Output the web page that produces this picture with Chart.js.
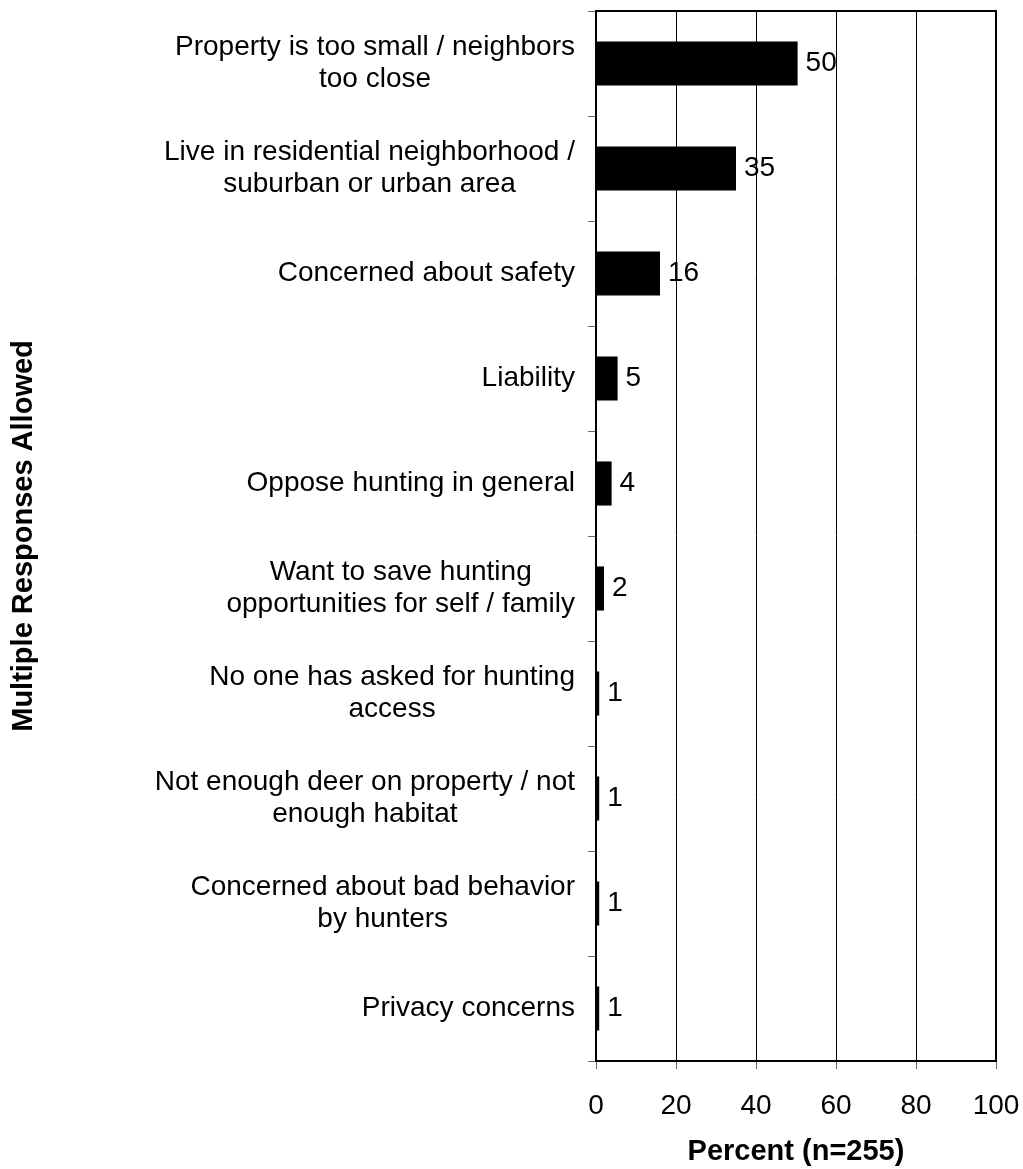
<!DOCTYPE html>
<html><head><meta charset="utf-8">
<script src="https://cdn.jsdelivr.net/npm/chart.js@4"></script>
<style>html,body{margin:0;padding:0;background:#fff}</style>
</head><body>
<canvas id="c" width="1023" height="1169" style="width:1023px;height:1169px;display:block"></canvas>
<script>
const categories = [
  ["Property is too small / neighbors", "too close"],
  ["Live in residential neighborhood /", "suburban or urban area"],
  ["Concerned about safety"],
  ["Liability"],
  ["Oppose hunting in general"],
  ["Want to save hunting", "opportunities for self / family"],
  ["No one has asked for hunting", "access"],
  ["Not enough deer on property / not", "enough habitat"],
  ["Concerned about bad behavior", "by hunters"],
  ["Privacy concerns"]
];
const percents = [50.4, 35, 16, 5.4, 3.9, 2, 0.8, 0.8, 0.8, 0.8];
const xTickValues = [0, 20, 40, 60, 80, 100];
const xTitle = "Percent (n=255)";
const yTitle = "Multiple Responses Allowed";

const FONT = "'Liberation Sans', Arial, sans-serif";
Chart.defaults.font.family = FONT;
Chart.defaults.color = '#000';

const labelPlugin = {
  id: 'catLabels',
  afterDraw(chart) {
    const ctx = chart.ctx;
    const ys = chart.scales.y;
    ctx.save();
    ctx.font = '28px ' + FONT;
    ctx.fillStyle = '#000';
    ctx.textBaseline = 'middle';
    ctx.textAlign = 'center';
    const rightX = chart.chartArea.left - 21;
    const lineH = 32;
    categories.forEach((lines, i) => {
      const y = ys.getPixelForTick(i);
      let maxW = 0;
      lines.forEach(l => { maxW = Math.max(maxW, ctx.measureText(l).width); });
      const cx = rightX - maxW / 2;
      lines.forEach((l, j) => {
        ctx.fillText(l, cx, y + (j - (lines.length - 1) / 2) * lineH);
      });
    });
    // value labels
    ctx.textAlign = 'left';
    const meta = chart.getDatasetMeta(0);
    meta.data.forEach((bar, i) => {
      ctx.fillText(String(Math.round(percents[i])), bar.x + 8, bar.y);
    });
    // frame
    const a = chart.chartArea;
    ctx.strokeStyle = '#000';
    ctx.lineWidth = 2;
    ctx.strokeRect(a.left, a.top, a.right - a.left, a.bottom - a.top);
    ctx.restore();
  }
};

new Chart(document.getElementById('c'), {
  type: 'bar',
  data: {
    labels: categories,
    datasets: [{
      data: percents,
      backgroundColor: '#000',
      borderWidth: 0,
      barPercentage: 0.42,
      categoryPercentage: 1
    }]
  },
  options: {
    indexAxis: 'y',
    responsive: false,
    animation: false,
    devicePixelRatio: 1,
    layout: { padding: { top: 11, right: 27, left: 0, bottom: 0 } },
    plugins: { legend: { display: false }, tooltip: { enabled: false } },
    scales: {
      x: {
        type: 'linear',
        min: 0, max: 100,
        afterBuildTicks(s) { s.ticks = xTickValues.map(v => ({ value: v })); },
        ticks: { font: { size: 28 }, color: '#000', padding: 20, maxRotation: 0 },
        grid: { color: '#000', lineWidth: 1, tickLength: 8, tickColor: '#666' },
        border: { color: '#000', width: 2 },
        title: { display: true, text: xTitle, font: { size: 29, weight: 'bold' }, color: '#000', padding: { top: 0, bottom: 0 } },
        afterFit(s) { s.height = 108; s.paddingLeft = 0; s.paddingRight = 0; }
      },
      y: {
        type: 'category',
        offset: true,
        grid: { offset: true, drawOnChartArea: false, tickLength: 8, tickColor: '#666' },
        border: { color: '#000', width: 2 },
        ticks: { color: 'rgba(0,0,0,0)', font: { size: 10 }, padding: 13 },
        title: { display: true, text: yTitle, font: { size: 29, weight: 'bold' }, color: '#000', padding: { top: 7, bottom: 0 } },
        afterFit(s) { s.width = 596; s.paddingTop = 0; s.paddingBottom = 0; }
      }
    }
  },
  plugins: [labelPlugin]
});
</script>
</body></html>
